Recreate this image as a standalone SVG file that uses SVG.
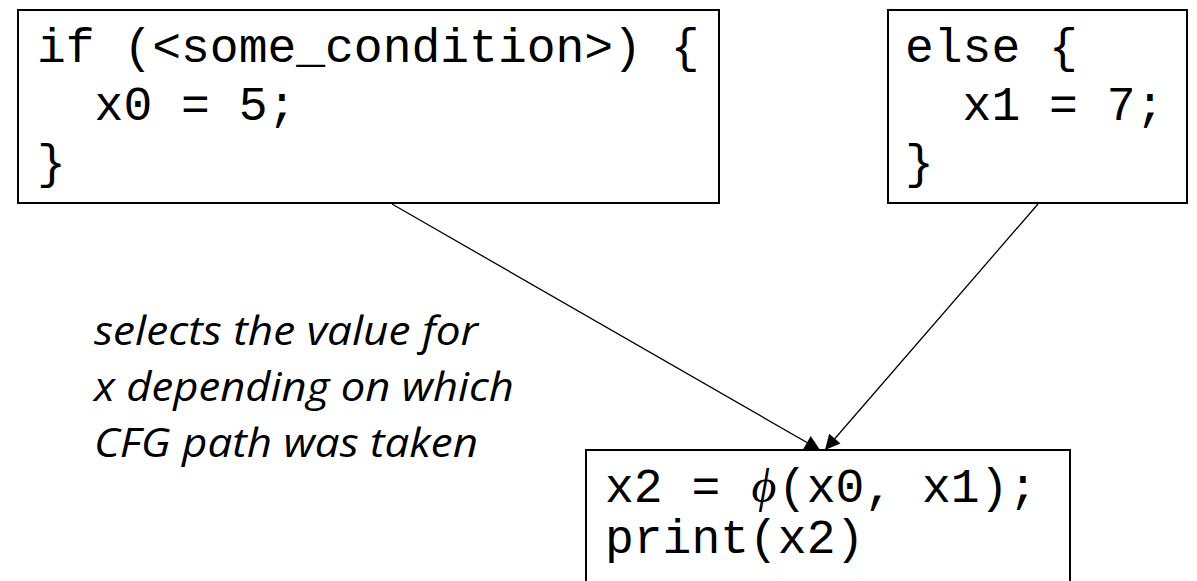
<svg xmlns="http://www.w3.org/2000/svg" width="1197" height="581" viewBox="0 0 1197 581">
  <style>
    .box { fill: #ffffff; stroke: #000000; stroke-width: 2; }
    .code { font-family: "Liberation Mono", "Courier New", monospace; font-size: 48px; fill: #000000; white-space: pre; }
    .phi { font-family: "Liberation Serif", "DejaVu Serif", serif; font-style: italic; font-size: 48px; fill: #000000; }
    .note { font-family: "Open Sans", "Lato", sans-serif; font-style: italic; font-size: 40px; fill: #000000; }
    .edge { stroke: #000000; stroke-width: 1.3; fill: none; }
  </style>
  <defs>
    <marker id="arrow" viewBox="0 0 10 10" refX="10" refY="5" markerWidth="16" markerHeight="15" markerUnits="userSpaceOnUse" orient="auto">
      <path d="M0,0 L10,5 L0,10 z" fill="#000000"/>
    </marker>
  </defs>
  <rect width="1197" height="581" fill="#ffffff"/>

  <g id="if-block">
    <rect class="box" x="18" y="10" width="701" height="193"/>
    <text class="code" x="37" y="62" xml:space="preserve">if (&lt;some_condition&gt;) {</text>
    <text class="code" x="37" y="120" xml:space="preserve">  x0 = 5;</text>
    <text class="code" x="37" y="178">}</text>
  </g>

  <g id="else-block">
    <rect class="box" x="888" y="10" width="299" height="193"/>
    <text class="code" x="905" y="62" xml:space="preserve">else {</text>
    <text class="code" x="905" y="120" xml:space="preserve">  x1 = 7;</text>
    <text class="code" x="905" y="178">}</text>
  </g>

  <g id="phi-block">
    <rect class="box" x="586" y="450" width="484" height="150"/>
    <text class="code" x="605" y="502" xml:space="preserve">x2 = </text>
    <text class="phi" x="764" y="502" text-anchor="middle">ϕ</text>
    <text class="code" x="778" y="502" xml:space="preserve">(x0, x1);</text>
    <text class="code" x="605" y="553">print(x2)</text>
  </g>

  <g id="note">
    <text class="note" x="94" y="345" textLength="384" lengthAdjust="spacingAndGlyphs">selects the value for</text>
    <text class="note" x="94" y="401" textLength="420" lengthAdjust="spacingAndGlyphs">x depending on which</text>
    <text class="note" x="94" y="457" textLength="384" lengthAdjust="spacingAndGlyphs">CFG path was taken</text>
  </g>

  <g id="connectors">
    <line class="edge" x1="392" y1="204" x2="820" y2="450" marker-end="url(#arrow)"/>
    <line class="edge" x1="1038" y1="204" x2="825" y2="450" marker-end="url(#arrow)"/>
  </g>
</svg>
